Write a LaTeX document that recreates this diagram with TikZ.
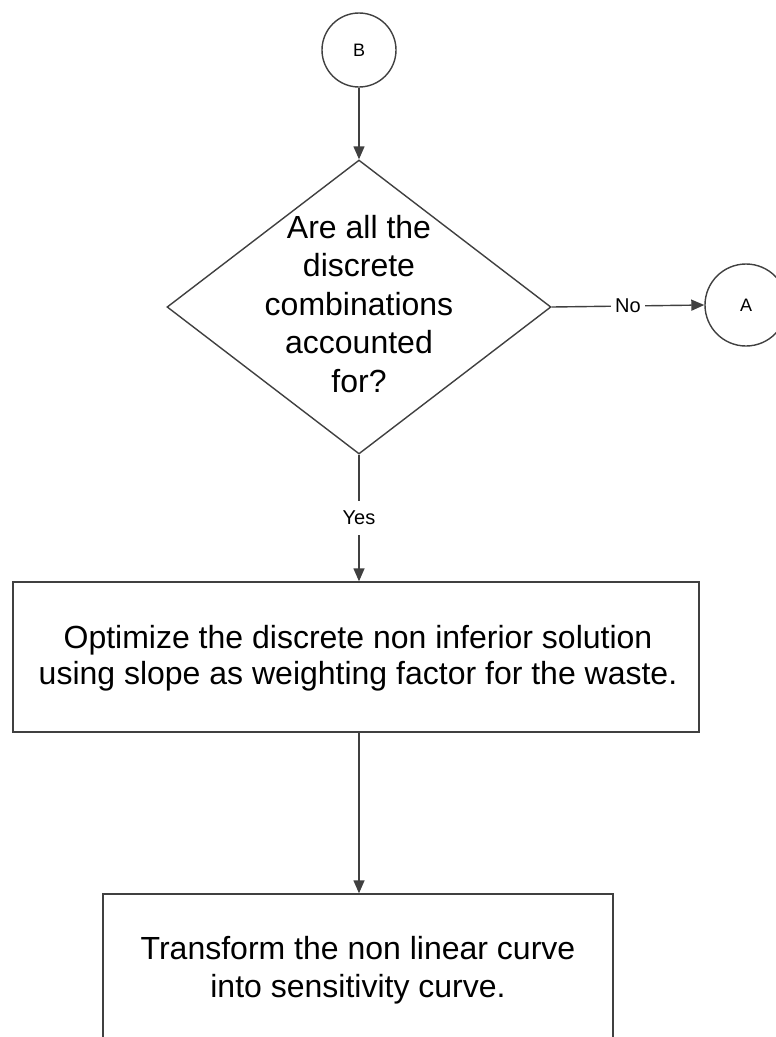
\documentclass[tikz,border=0pt]{standalone}
\usepackage{fontspec}
\setmainfont{Liberation Sans}
\usetikzlibrary{shapes.geometric,arrows.meta}
\begin{document}
\begin{tikzpicture}[x=1pt,y=-1pt,
  ln/.style={draw=black!75,line width=1.4pt},
  arr/.style={ln,-{Triangle[length=13pt,width=11pt]}},
  conn/.style={ln,circle,minimum size=74pt,inner sep=0pt,font=\fontsize{18}{20}\selectfont},
  decision/.style={ln,diamond,minimum width=384pt,minimum height=294pt,inner sep=0pt},
  bigtext/.style={align=center,inner sep=0pt},
  procbox/.style={ln,rectangle,inner sep=0pt},
  lab/.style={fill=white,inner xsep=4pt,inner ysep=0pt,minimum height=34pt,font=\fontsize{20}{22}\selectfont}
]
\useasboundingbox (0,0) rectangle (776,1037);
\fill[white] (0,0) rectangle (776,1037);
\node[conn] (B) at (359,50) {B};
\node[decision] (D) at (359,307) {};
\node[bigtext,font=\fontsize{32}{38.5}\selectfont] (Dq) at (359,304) {Are all the\\discrete\\combinations\\accounted\\for?};
\node[conn,minimum size=82pt] (A) at (746,305) {A};
\node[procbox,minimum width=686pt,minimum height=150pt] (P1) at (356,657) {};
\node[bigtext,font=\fontsize{32}{36}\selectfont] (P1t) at (358,658) {Optimize the discrete non inferior solution\\using slope as weighting factor for the waste.};
\node[procbox,minimum width=510pt,minimum height=200pt] (P2) at (358,994) {};
\node[bigtext,font=\fontsize{32}{38}\selectfont] (P2t) at (358,970) {Transform the non linear curve\\into sensitivity curve.};
\draw[arr] (B) -- (D.north);
\draw[arr] (D.east) -- node[lab] (no) {No} (A.west);
\draw[arr] (D.south) -- node[lab] (yes) {Yes} (D.south |- P1.north);
\draw[arr] (D.south |- P1.south) -- (D.south |- P2.north);
\end{tikzpicture}
\end{document}
